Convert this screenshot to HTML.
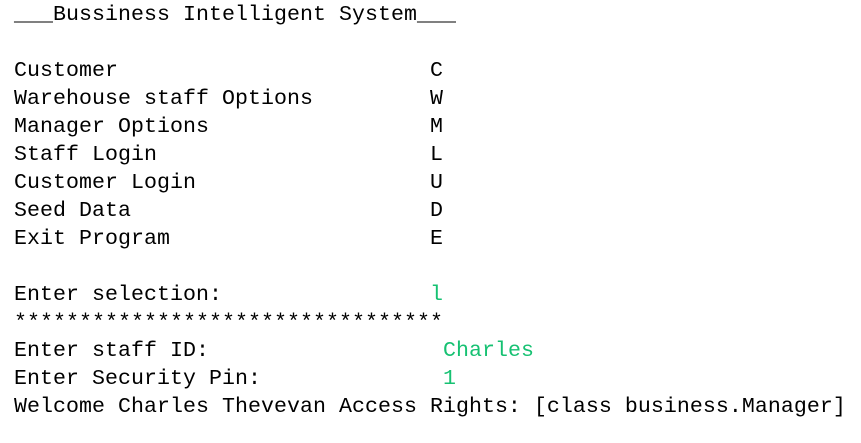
<!DOCTYPE html>
<html><head><meta charset="utf-8"><style>
html,body{margin:0;padding:0;background:#fff;width:861px;height:443px;overflow:hidden}
pre{margin:0;position:absolute;left:14px;top:1px;font-family:"Liberation Mono",monospace;font-size:21.6px;line-height:28px;color:#000;letter-spacing:0.04px}
.g{color:#16c172}
</style></head><body>
<pre>___Bussiness Intelligent System___

Customer                        C
Warehouse staff Options         W
Manager Options                 M
Staff Login                     L
Customer Login                  U
Seed Data                       D
Exit Program                    E

Enter selection:                <span class="g">l</span>
*********************************
Enter staff ID:                  <span class="g">Charles</span>
Enter Security Pin:              <span class="g">1</span>
Welcome Charles Thevevan Access Rights: [class business.Manager]</pre>
</body></html>
